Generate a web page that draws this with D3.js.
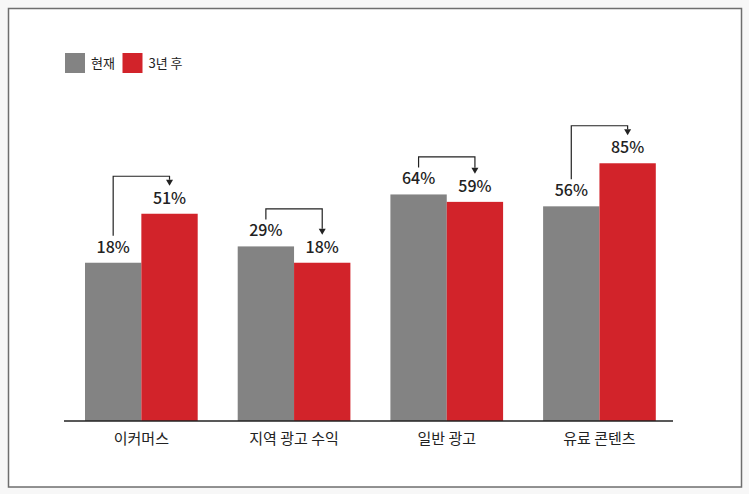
<!DOCTYPE html>
<html><head><meta charset="utf-8">
<script src="https://cdn.jsdelivr.net/npm/d3@7"></script>
<style>
html,body{margin:0;padding:0;background:#f7f7f7;}
svg{display:block;}
</style></head>
<body>
<svg id="chart" width="749" height="494"></svg>
<script>
const categories = ["이커머스", "지역 광고 수익", "일반 광고", "유료 콘텐츠"];
const seriesNames = ["현재", "3년 후"];
const currentValues = [18, 29, 64, 56];
const futureValues = [51, 18, 59, 85];
const colors = ["#838383", "#d2232a"];

const svg = d3.select("#chart");
const font = "'Noto Sans CJK KR','Noto Sans',sans-serif";

// frame
svg.append("rect").attr("x", 8.5).attr("y", 8.5).attr("width", 733).attr("height", 478.5)
  .attr("fill", "#fff").attr("stroke", "#6e6e6e").attr("stroke-width", 1.5);

const x0 = d3.scaleBand().domain(categories).range([65, 675.8]).paddingInner(0.262).paddingOuter(0.131);
const x1 = d3.scaleBand().domain(seriesNames).range([0, x0.bandwidth()]);
const y = d3.scaleLinear().domain([-88.6, 100]).range([421, 141]);

const data = categories.map((c, i) => ({cat: c, vals: [currentValues[i], futureValues[i]]}));

const g = svg.append("g");
const groups = g.selectAll("g.grp").data(data).join("g").attr("class", "grp")
  .attr("transform", d => `translate(${x0(d.cat)},0)`);

groups.selectAll("rect").data(d => d.vals.map((v, j) => ({v, s: seriesNames[j], j})))
  .join("rect")
  .attr("x", d => x1(d.s)).attr("width", x1.bandwidth())
  .attr("y", d => y(d.v)).attr("height", d => y.range()[0] - y(d.v))
  .attr("fill", d => colors[d.j]);

groups.selectAll("text.val").data(d => d.vals.map((v, j) => ({v, s: seriesNames[j]})))
  .join("text").attr("class", "val")
  .attr("x", d => x1(d.s) + x1.bandwidth() / 2)
  .attr("y", d => y(d.v) - 10)
  .attr("text-anchor", "middle")
  .attr("font-family", font).attr("font-size", 16).attr("font-weight", 500)
  .attr("fill", "#222")
  .text(d => d.v + "%");

// arrows
groups.each(function(d) {
  const gg = d3.select(this);
  const xa = x1(seriesNames[0]) + x1.bandwidth() / 2;
  const xb = x1(seriesNames[1]) + x1.bandwidth() / 2;
  const top = y(Math.max(d.vals[0], d.vals[1])) - 37.5;
  const ya = y(d.vals[0]) - 27;
  const yb = y(d.vals[1]) - 34;
  gg.append("path")
    .attr("d", `M${xa},${ya}V${top}H${xb}V${yb}`)
    .attr("fill", "none").attr("stroke", "#222").attr("stroke-width", 1.2);
  gg.append("path")
    .attr("d", `M${xb - 3.5},${yb}L${xb + 3.5},${yb}L${xb},${yb + 6}Z`)
    .attr("fill", "#222");
});

// axis
const xAxis = d3.axisBottom(x0).tickSize(0).tickPadding(12);
const ax = svg.append("g").attr("transform", "translate(0,421)").call(xAxis);
ax.select(".domain").remove();
ax.append("line").attr("x1", 64).attr("x2", 673).attr("y1", 0).attr("y2", 0)
  .attr("stroke", "#222").attr("stroke-width", 1.5);
ax.selectAll("text").attr("font-family", font).attr("font-size", 15).attr("fill", "#222");

// legend
const leg = svg.append("g").attr("transform", "translate(65,53)");
const legOffsets = [0, 57.5];
seriesNames.forEach((n, i) => {
  const lg = leg.append("g").attr("transform", `translate(${legOffsets[i]},0)`);
  lg.append("rect").attr("width", 20).attr("height", 20).attr("fill", colors[i]);
  lg.append("text").attr("x", 26).attr("y", 10).attr("dy", "0.35em")
    .attr("font-family", font).attr("font-size", 13).attr("fill", "#222").text(n);
});
</script>
</body></html>
